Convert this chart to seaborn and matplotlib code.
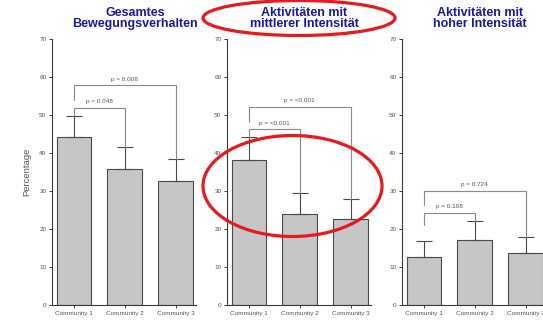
import matplotlib
matplotlib.use("Agg")
import matplotlib.pyplot as plt
import seaborn as sns
import pandas as pd
from matplotlib.patches import Ellipse

communities = ["Community 1", "Community 2", "Community 3"]
panel_titles = [
    "Gesamtes\nBewegungsverhalten",
    "Aktivitäten mit\nmittlerer Intensität",
    "Aktivitäten mit\nhoher Intensität",
]

# Mean percentage and the upper end of the error bar per community
total_mean = [44.1, 35.7, 32.6]
total_upper = [49.7, 41.5, 38.3]
moderate_mean = [38.2, 23.9, 22.6]
moderate_upper = [44.1, 29.4, 27.8]
vigorous_mean = [12.6, 17.1, 13.6]
vigorous_upper = [16.9, 22.1, 18.0]

# Significance brackets: compared bars, bracket height, end of left leg, label
total_pairs = [(0, 1), (0, 2)]
total_heights = [51.8, 57.8]
total_left_ends = [49.7, 54.0]
total_labels = ["p = 0.048", "p = 0.006"]

moderate_pairs = [(0, 1), (0, 2)]
moderate_heights = [46.2, 52.2]
moderate_left_ends = [44.1, 48.2]
moderate_labels = ["p = <0.001", "p = <0.001"]

vigorous_pairs = [(0, 1), (0, 2)]
vigorous_heights = [24.3, 30.0]
vigorous_left_ends = [21.0, 26.3]
vigorous_labels = ["p = 0.108", "p = 0.724"]

yticks = [0, 10, 20, 30, 40, 50, 60, 70]

panels = [
    (total_mean, total_upper, total_pairs, total_heights, total_left_ends, total_labels),
    (moderate_mean, moderate_upper, moderate_pairs, moderate_heights, moderate_left_ends, moderate_labels),
    (vigorous_mean, vigorous_upper, vigorous_pairs, vigorous_heights, vigorous_left_ends, vigorous_labels),
]

sns.set_theme(style="ticks")
plt.rcParams["font.family"] = ["Liberation Sans", "DejaVu Sans"]

W, H = 543, 324
fig = plt.figure(figsize=(W / 100, H / 100), dpi=100)
fig.patch.set_facecolor("white")

axes_left_px = [52, 227, 402]
title_x_px = [135, 304, 480]
ax_w, ax_b, ax_h = 144, 19, 266

bar_fill = "#c6c6c6"
bar_edge = "#4a4a4a"
axis_col = "#3a3a3a"
text_col = "#555555"
bracket_col = "#8a8a8a"

for i, (mean, upper, pairs, heights, left_ends, labels) in enumerate(panels):
    ax = fig.add_axes([axes_left_px[i] / W, ax_b / H, ax_w / W, ax_h / H])
    df = pd.DataFrame({"community": communities, "value": mean})
    sns.barplot(data=df, x="community", y="value", color=bar_fill,
                edgecolor=bar_edge, linewidth=0.8, width=0.68,
                saturation=1, errorbar=None, ax=ax)
    xs = list(range(len(communities)))
    err_up = [u - m for u, m in zip(upper, mean)]
    ax.errorbar(xs, mean, yerr=[[0] * len(mean), err_up], fmt="none",
                ecolor=bar_edge, elinewidth=0.8, capsize=6, capthick=0.8, zorder=3)

    for (a, b), h, le, lab in zip(pairs, heights, left_ends, labels):
        ax.plot([a, a, b, b], [le, h, h, upper[b]], color=bracket_col, lw=0.8,
                zorder=4, solid_joinstyle="miter")
        ax.text((a + b) / 2, h + 1.0, lab, ha="center", va="bottom",
                fontsize=4.6, color=text_col)

    ax.set_xlim(-0.43, 2.4)
    ax.set_ylim(0, 70)
    ax.set_yticks(yticks)
    ax.set_xlabel("")
    ax.set_ylabel("Percentage" if i == 0 else "", fontsize=6.8, color=text_col, labelpad=6)
    ax.tick_params(axis="both", length=2.5, width=0.7, color=axis_col, pad=1.5,
                   labelsize=4.6, labelcolor=text_col)
    sns.despine(ax=ax)
    for s in ("left", "bottom"):
        ax.spines[s].set_color(axis_col)
        ax.spines[s].set_linewidth(0.8)
    ax.set_facecolor("white")

    fig.text(title_x_px[i] / W, 1 - 7 / H, panel_titles[i], ha="center", va="top",
             fontsize=9, fontweight="bold", color="#1a1aa0", linespacing=0.85)

# Red highlight rings
ring_kw = dict(transform=fig.transFigure, fill=False, edgecolor="#e41a1c", lw=2.3, zorder=10)
fig.add_artist(Ellipse((299 / W, 1 - 18 / H), 192 / W, 35 / H, **ring_kw))
fig.add_artist(Ellipse((292.5 / W, 1 - 186 / H), 179 / W, 101 / H, **ring_kw))

fig.savefig("out.png", dpi=100, facecolor="white")
